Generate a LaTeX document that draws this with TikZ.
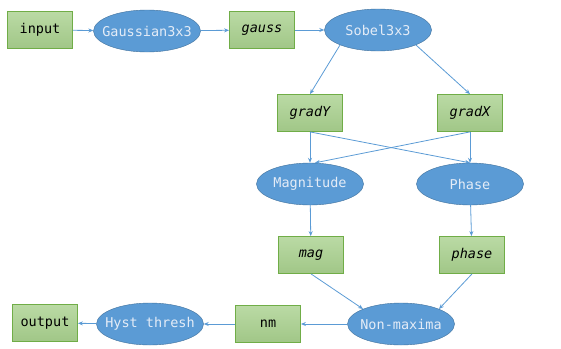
\documentclass[tikz,border=0pt]{standalone}
\usepackage{fontspec}
\setmonofont{DejaVu Sans Mono}
\usetikzlibrary{shapes.geometric,arrows.meta}
\definecolor{boxgreen}{HTML}{A9D18E}
\definecolor{boxedge}{HTML}{70AD47}
\definecolor{procblue}{HTML}{5B9BD5}
\definecolor{procedge}{HTML}{41719C}
\definecolor{proctext}{HTML}{E4ECF7}
\begin{document}
\begin{tikzpicture}[
    x=1pt, y=-1pt,
    data/.style={draw=boxedge, thick, top color=boxgreen!80!white, bottom color=boxgreen!95!black,
                 minimum width=65pt, minimum height=37pt, inner sep=0pt,
                 font=\ttfamily\fontsize{13.5}{15}\selectfont},
    proc/.style={ellipse, draw=procedge, fill=procblue, text=proctext,
                 minimum width=107pt, minimum height=42pt, inner xsep=-8pt, inner ysep=0pt,
                 font=\ttfamily\fontsize{13.5}{15}\selectfont},
    arrow/.style={-{Stealth[length=5pt,width=4pt]}, procblue, line width=0.8pt},
  ]
    \useasboundingbox (0,0) rectangle (561,348);

    % top row
    \node[data]               (input)  at (40,30)   {input};
    \node[proc]               (gauss3) at (147,31)  {Gaussian3x3};
    \node[data, font=\ttfamily\itshape\fontsize{13.5}{15}\selectfont] (gauss) at (262,30) {gauss};
    \node[proc]               (sobel)  at (378,30)  {Sobel3x3};

    % gradients
    \node[data, font=\ttfamily\itshape\fontsize{13.5}{15}\selectfont] (gradY) at (310,113) {gradY};
    \node[data, font=\ttfamily\itshape\fontsize{13.5}{15}\selectfont] (gradX) at (470,113) {gradX};
    \node[proc]               (magn)   at (310,184) {Magnitude};
    \node[proc]               (phs)    at (470,184) {Phase};
    \node[data, font=\ttfamily\itshape\fontsize{13.5}{15}\selectfont] (mag)   at (311,255) {mag};
    \node[data, font=\ttfamily\itshape\fontsize{13.5}{15}\selectfont] (phase) at (472,255) {phase};

    % bottom row
    \node[proc]               (nonmax) at (401,324) {Non-maxima};
    \node[data]               (nm)     at (268,324) {nm};
    \node[proc]               (hyst)   at (150,324) {Hyst thresh};
    \node[data]               (output) at (45,323)  {output};

    % Arrows
    \draw[arrow] (input) -- (gauss3);
    \draw[arrow] (gauss3) -- (gauss);
    \draw[arrow] (gauss) -- (sobel);
    \draw[arrow] (sobel.south west) -- (gradY.north);
    \draw[arrow] (sobel.south east) -- (gradX.north);
    \draw[arrow] (gradY.south) -- (magn.north);
    \draw[arrow] (gradY.south) -- (phs.north);
    \draw[arrow] (gradX.south) -- ([xshift=5pt]magn.north);
    \draw[arrow] (gradX.south) -- (phs.north);
    \draw[arrow] (magn) -- (mag);
    \draw[arrow] (phs) -- (phase);
    \draw[arrow] (mag.south) -- (nonmax.north west);
    \draw[arrow] (phase.south) -- (nonmax.north east);
    \draw[arrow] (nonmax) -- (nm);
    \draw[arrow] (nm) -- (hyst);
    \draw[arrow] (hyst) -- (output);
  \end{tikzpicture}
\end{document}
